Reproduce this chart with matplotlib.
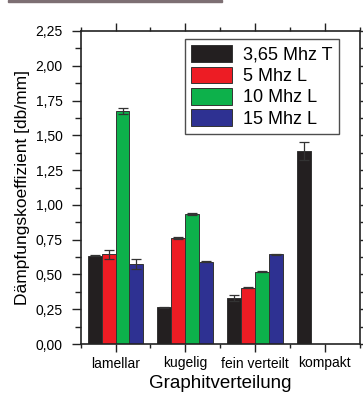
import matplotlib
matplotlib.use("Agg")
import matplotlib.pyplot as plt
import numpy as np
from matplotlib.ticker import FixedLocator, MultipleLocator, FuncFormatter
from matplotlib.patches import Rectangle

plt.rcParams['font.family'] = ['Liberation Sans', 'DejaVu Sans']

categories = ["lamellar", "kugelig", "fein verteilt", "kompakt"]
series_names = ["3,65 Mhz T", "5 Mhz L", "10 Mhz L", "15 Mhz L"]
colors = ["#231f20", "#ed1c24", "#0db14b", "#2e3192"]

v_365T = [0.635, 0.265, 0.33, 1.39]
v_5L = [0.645, 0.763, 0.405, np.nan]
v_10L = [1.675, 0.935, 0.52, np.nan]
v_15L = [0.575, 0.592, 0.645, np.nan]

e_365T = [0.005, 0.003, 0.022, 0.065]
e_5L = [0.033, 0.008, 0.004, np.nan]
e_10L = [0.022, 0.010, 0.004, np.nan]
e_15L = [0.037, 0.005, 0.004, np.nan]

values = [v_365T, v_5L, v_10L, v_15L]
errors = [e_365T, e_5L, e_10L, e_15L]

W, H = 363, 394
fig = plt.figure(figsize=(W / 100, H / 100), dpi=100)
ax = fig.add_axes([80.7 / W, (H - 344) / H, (359.5 - 80.7) / W, (344 - 31) / H])

# cropped photo strip at very top
fig.patches.append(Rectangle((8 / W, (H - 2) / H), (222 - 8) / W, 2 / H,
                             transform=fig.transFigure, color="#7d6f73", zorder=0))

x = np.arange(1, len(categories) + 1)
width = 0.2
offsets = [-0.3, -0.1, 0.1, 0.3]
for vals, errs, name, col, off in zip(values, errors, series_names, colors, offsets):
    vals = np.array(vals, dtype=float)
    errs = np.array(errs, dtype=float)
    ax.bar(x + off, vals, width, color=col, edgecolor="#333333", linewidth=0.7,
           label=name, zorder=2)
    mask = ~np.isnan(vals)
    ax.errorbar((x + off)[mask], vals[mask], yerr=errs[mask], fmt="none",
                ecolor="#333333", elinewidth=0.9, capsize=3.5, capthick=0.9, zorder=3)

ax.set_xlim(0.5, 4.5)
ax.set_ylim(0, 2.25)

ax.xaxis.set_major_locator(FixedLocator(x))
ax.set_xticklabels(categories, fontsize=10)
ax.xaxis.set_minor_locator(FixedLocator([0.5, 1.5, 2.5, 3.5, 4.5]))
ax.yaxis.set_major_locator(MultipleLocator(0.25))
ax.yaxis.set_minor_locator(MultipleLocator(0.125))
ax.yaxis.set_major_formatter(FuncFormatter(lambda v, p: f"{v:.2f}".replace(".", ",")))
ax.tick_params(axis="y", labelsize=10)

ax.tick_params(which="major", direction="out", length=6.5, width=1.0,
               top=True, right=True, color="#222222")
ax.tick_params(which="minor", direction="out", length=4, width=1.0,
               top=True, right=True, color="#222222")
ax.tick_params(axis="y", which="major", pad=6.5)
ax.tick_params(axis="x", which="major", length=6, pad=3)
ax.tick_params(axis="x", which="minor", length=3)

for s in ax.spines.values():
    s.set_linewidth(1.2)
    s.set_color("#222222")

ax.set_xlabel("Graphitverteilung", fontsize=13.5, labelpad=3)
ax.set_ylabel("Dämpfungskoeffizient [db/mm]", fontsize=12.5, labelpad=4)

leg = ax.legend(loc="upper right", bbox_to_anchor=(339 / W, (H - 39) / H),
                bbox_transform=fig.transFigure, fontsize=13, frameon=True,
                fancybox=False, borderaxespad=0, handlelength=2.3, handleheight=1.05,
                labelspacing=0.15, handletextpad=0.6, borderpad=0.35)
leg.get_frame().set_edgecolor("#222222")
leg.get_frame().set_linewidth(1.0)

fig.savefig("out.png", dpi=100)
